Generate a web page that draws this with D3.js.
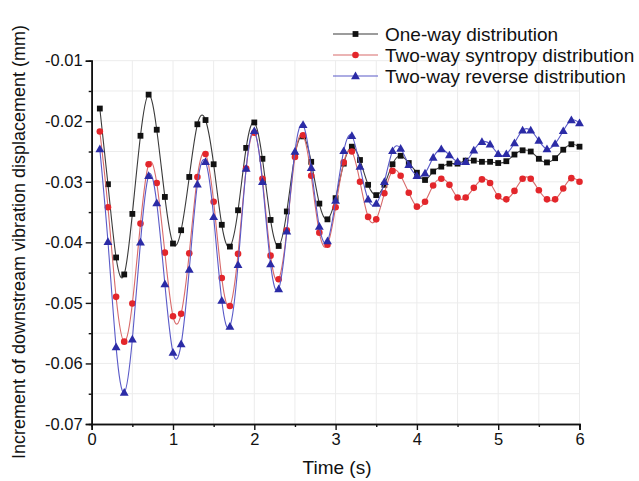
<!DOCTYPE html>
<html>
<head>
<meta charset="utf-8">
<script src="https://cdn.jsdelivr.net/npm/d3@7/dist/d3.min.js"></script>
<style>
  body { margin: 0; background: #fff; }
  svg { display: block; }
  text { font-family: "Liberation Sans", Arial, Helvetica, sans-serif; fill: #111; }
</style>
</head>
<body>
<svg id="chart" width="639" height="481"></svg>
<script>
// Sample times (s)
const time = [0.1, 0.2, 0.3, 0.4, 0.5, 0.6, 0.7, 0.8, 0.9, 1.0,
              1.1, 1.2, 1.3, 1.4, 1.5, 1.6, 1.7, 1.8, 1.9, 2.0,
              2.1, 2.2, 2.3, 2.4, 2.5, 2.6, 2.7, 2.8, 2.9, 3.0,
              3.1, 3.2, 3.3, 3.4, 3.5, 3.6, 3.7, 3.8, 3.9, 4.0,
              4.1, 4.2, 4.3, 4.4, 4.5, 4.6, 4.7, 4.8, 4.9, 5.0,
              5.1, 5.2, 5.3, 5.4, 5.5, 5.6, 5.7, 5.8, 5.9, 6.0];

// Displacement increment (mm) per distribution mode
const oneWay = [-0.0179, -0.0304, -0.0425, -0.0453, -0.0353, -0.0224, -0.0156, -0.0214, -0.0325, -0.0402,
                -0.0380, -0.0292, -0.0205, -0.0198, -0.0271, -0.0371, -0.0407, -0.0347, -0.0244, -0.0202,
                -0.0262, -0.0363, -0.0406, -0.0349, -0.0256, -0.0225, -0.0267, -0.0336, -0.0362, -0.0327,
                -0.0270, -0.0242, -0.0264, -0.0305, -0.0322, -0.0305, -0.0271, -0.0257, -0.0269, -0.0285,
                -0.0297, -0.0283, -0.0275, -0.0270, -0.0270, -0.0265, -0.0265, -0.0267, -0.0267, -0.0269,
                -0.0266, -0.0255, -0.0248, -0.0250, -0.0262, -0.0268, -0.0261, -0.0247, -0.0238, -0.0242];

const syntropy = [-0.0217, -0.0342, -0.0490, -0.0564, -0.0501, -0.0369, -0.0271, -0.0302, -0.0417, -0.0522,
                  -0.0518, -0.0418, -0.0292, -0.0254, -0.0333, -0.0459, -0.0505, -0.0419, -0.0278, -0.0219,
                  -0.0295, -0.0422, -0.0461, -0.0380, -0.0259, -0.0223, -0.0290, -0.0384, -0.0404, -0.0342,
                  -0.0268, -0.0250, -0.0300, -0.0358, -0.0362, -0.0319, -0.0282, -0.0290, -0.0318, -0.0341,
                  -0.0333, -0.0306, -0.0295, -0.0305, -0.0326, -0.0326, -0.0310, -0.0296, -0.0302, -0.0324,
                  -0.0329, -0.0315, -0.0295, -0.0295, -0.0314, -0.0329, -0.0329, -0.0311, -0.0294, -0.0300];

const reverse = [-0.0246, -0.0399, -0.0573, -0.0648, -0.0560, -0.0400, -0.0290, -0.0335, -0.0469, -0.0582,
                 -0.0568, -0.0445, -0.0304, -0.0267, -0.0358, -0.0496, -0.0539, -0.0437, -0.0278, -0.0216,
                 -0.0300, -0.0436, -0.0477, -0.0382, -0.0250, -0.0206, -0.0277, -0.0374, -0.0398, -0.0331,
                 -0.0249, -0.0224, -0.0275, -0.0329, -0.0336, -0.0300, -0.0249, -0.0245, -0.0272, -0.0290,
                 -0.0286, -0.0260, -0.0246, -0.0256, -0.0267, -0.0267, -0.0248, -0.0234, -0.0238, -0.0254,
                 -0.0254, -0.0236, -0.0215, -0.0215, -0.0232, -0.0246, -0.0237, -0.0216, -0.0198, -0.0203];

const seriesNames = ["One-way distribution", "Two-way syntropy distribution", "Two-way reverse distribution"];
const xTicks = [0, 1, 2, 3, 4, 5, 6];
const xMinorTicks = [0.5, 1.5, 2.5, 3.5, 4.5, 5.5];
const yTicks = [-0.07, -0.06, -0.05, -0.04, -0.03, -0.02, -0.01];
const yMinorTicks = [-0.065, -0.055, -0.045, -0.035, -0.025, -0.015];
const yTickLabels = ["-0.07", "-0.06", "-0.05", "-0.04", "-0.03", "-0.02", "-0.01"];

const svg = d3.select("#chart");
const plotLeft = 91.7, plotRight = 579.5, plotTop = 60.7, plotBottom = 424;

const x = d3.scaleLinear().domain([0, 6]).range([plotLeft, plotRight]);
const y = d3.scaleLinear().domain([-0.07, -0.01]).range([plotBottom, plotTop]);

// light grid at major and minor positions
const grid = svg.append("g").attr("stroke", "#ececec").attr("stroke-width", 1);
xTicks.concat(xMinorTicks).filter(d => d > 0).forEach(d => {
  grid.append("line").attr("x1", x(d)).attr("x2", x(d)).attr("y1", plotTop).attr("y2", plotBottom);
});
yTicks.concat(yMinorTicks).filter(d => d > -0.07).forEach(d => {
  grid.append("line").attr("x1", plotLeft).attr("x2", plotRight).attr("y1", y(d)).attr("y2", y(d));
});

// series styling
const series = [
  { values: oneWay,   line: "#3a3a3a", fill: "#111111", shape: "square" },
  { values: syntropy, line: "#d86a6a", fill: "#e3262b", shape: "circle" },
  { values: reverse,  line: "#5a5ac8", fill: "#2b2ba6", shape: "triangle" }
];

const lineGen = d3.line().x((d, i) => x(time[i])).y(d => y(d)).curve(d3.curveNatural);

function drawMarker(g, shape, cx, cy, fill) {
  if (shape === "square") {
    g.append("rect").attr("x", cx - 2.9).attr("y", cy - 2.9).attr("width", 5.8).attr("height", 5.8).attr("fill", fill);
  } else if (shape === "circle") {
    g.append("circle").attr("cx", cx).attr("cy", cy).attr("r", 3.3).attr("fill", fill);
  } else {
    g.append("path").attr("d", d3.symbol().type(d3.symbolTriangle).size(34)())
      .attr("transform", `translate(${cx},${cy + 0.6})`).attr("fill", fill);
  }
}

series.forEach(s => {
  const g = svg.append("g");
  g.append("path").datum(s.values).attr("d", lineGen)
    .attr("fill", "none").attr("stroke", s.line).attr("stroke-width", 1.1);
  s.values.forEach((v, i) => drawMarker(g, s.shape, x(time[i]), y(v), s.fill));
});

// axes
const xAxis = d3.axisBottom(x).tickValues(xTicks).tickFormat(d3.format("d")).tickSize(6).tickPadding(3);
const xAxisMinor = d3.axisBottom(x).tickValues(xMinorTicks).tickFormat("").tickSize(3);
const yAxis = d3.axisLeft(y).tickValues(yTicks).tickFormat((d, i) => yTickLabels[i]).tickSize(6).tickPadding(3);
const yAxisMinor = d3.axisLeft(y).tickValues(yMinorTicks).tickFormat("").tickSize(3);

function styleAxis(g) {
  g.select(".domain").attr("stroke", "#111").attr("stroke-width", 1.6);
  g.selectAll(".tick line").attr("stroke", "#111").attr("stroke-width", 1.4);
  g.selectAll(".tick text").attr("font-size", 16.5).attr("fill", "#111")
    .style("font-family", '"Liberation Sans", Arial, sans-serif');
}

svg.append("g").attr("transform", `translate(0,${plotBottom})`).call(xAxisMinor).call(styleAxis);
svg.append("g").attr("transform", `translate(0,${plotBottom})`).call(xAxis).call(styleAxis);
svg.append("g").attr("transform", `translate(${plotLeft},0)`).call(yAxisMinor).call(styleAxis);
svg.append("g").attr("transform", `translate(${plotLeft},0)`).call(yAxis).call(styleAxis);

// axis titles
svg.append("text").attr("x", 337).attr("y", 474)
  .attr("text-anchor", "middle").attr("font-size", 19).text("Time (s)");
svg.append("text").attr("transform", "translate(25,242) rotate(-90)")
  .attr("text-anchor", "middle").attr("font-size", 18)
  .text("Increment of downstream vibration displacement (mm)");

// legend
const legend = svg.append("g");
const legendY = [34, 55, 76];
series.forEach((s, i) => {
  const ly = legendY[i];
  legend.append("line").attr("x1", 333).attr("x2", 378).attr("y1", ly).attr("y2", ly)
    .attr("stroke", s.line).attr("stroke-width", 1.1);
  drawMarker(legend, s.shape, 355.5, ly, s.fill);
  legend.append("text").attr("x", 385).attr("y", ly).attr("dy", "0.35em")
    .attr("font-size", 19).text(seriesNames[i]);
});
</script>
</body>
</html>
